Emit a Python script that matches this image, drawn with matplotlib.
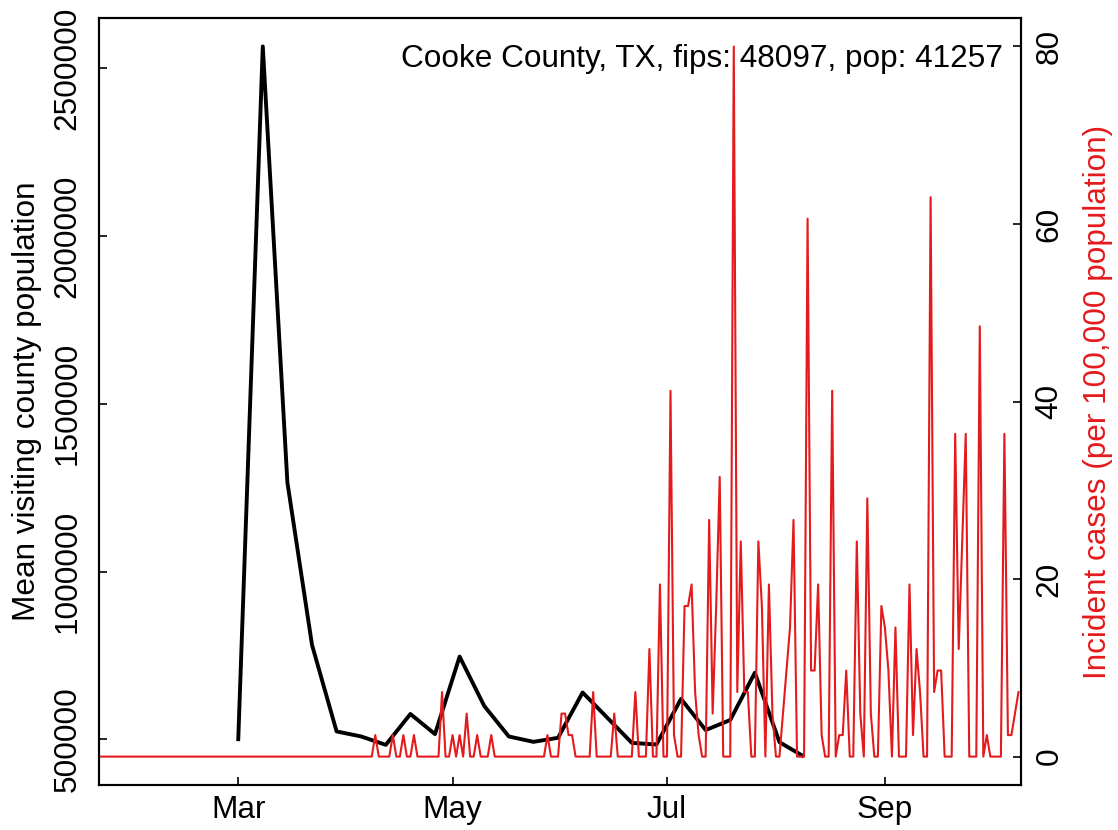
"""
Mean visiting county population (weekly) vs daily incident cases,
Cooke County, TX.
"""

import matplotlib
matplotlib.use("Agg")  # headless backend
import matplotlib.dates as mdates
import matplotlib.pyplot as plt
import numpy as np
import pandas as pd

plt.rcParams["font.family"] = ["Liberation Sans", "DejaVu Sans"]

# ---------------------------------------------------------------------------
# Data
# ---------------------------------------------------------------------------

COUNTY = "Cooke County, TX"
FIPS = 48097
POP = 41257

# weekly mean visiting population, one value per week starting 2020-03-01
visit_start = "2020-03-01"
visit_pop = [
    495000, 2565000, 1266000, 782000, 524000, 509000, 484000, 576000,
    516000, 747000, 600000, 509000, 493000, 505000, 640000, 565000,
    490000, 485000, 621000, 528000, 558000, 699000, 492000, 449000,
]

# daily new cases (counts) starting 2020-01-22
case_start = "2020-01-22"
cases_jan_apr = [0] * 78          # 2020-01-22 .. 2020-04-09, no cases
cases_apr_may = [
    1, 0, 0, 0, 0, 1, 0, 0, 1, 0, 0, 1, 0, 0, 0, 0, 0, 0, 0, 3,   # Apr 10 ..
    0, 0, 1, 0, 1, 0, 2, 0, 0, 1, 0, 0, 0, 1, 0, 0, 0, 0, 0, 0,
    0, 0, 0, 0, 0, 0, 0, 0, 0, 1, 0, 0, 0, 2, 2, 1, 1, 0, 0, 0,
]
cases_jun_jul = [
    0, 0, 3, 0, 0, 0, 0, 0, 2, 0, 0, 0, 0, 0, 3, 0, 0, 0, 5, 0,   # Jun 9 ..
    0, 8, 0, 0, 17, 1, 0, 0, 7, 7, 8, 3, 1, 0, 0, 11, 2, 7, 13, 0,
    0, 0, 33, 3, 10, 3, 3, 0, 0, 10, 7, 0, 8, 2, 0, 0, 2, 4, 6, 11,
]
cases_aug_oct = [
    0, 0, 0, 25, 4, 4, 8, 1, 0, 0, 17, 0, 1, 1, 4, 0, 0, 10, 2, 0,  # Aug 8 ..
    12, 2, 0, 0, 7, 6, 4, 0, 6, 0, 0, 0, 8, 1, 5, 3, 0, 0, 26, 3,
    4, 4, 0, 0, 0, 15, 5, 10, 15, 0, 0, 0, 20, 0, 1, 0, 0, 0, 0, 15,
    1, 1, 2, 3,
]

# ---------------------------------------------------------------------------
# Build series
# ---------------------------------------------------------------------------

cases = np.array(cases_jan_apr + cases_apr_may + cases_jun_jul + cases_aug_oct,
                 dtype=float)
incidence = cases / POP * 1e5
case_dates = pd.date_range(case_start, periods=len(cases), freq="D")
visit_dates = pd.date_range(visit_start, periods=len(visit_pop), freq="7D")

RED = "#e41a1c"
FS = 22.7

# ---------------------------------------------------------------------------
# Figure
# ---------------------------------------------------------------------------

fig = plt.figure(figsize=(11.18, 8.30), dpi=100)
ax = fig.add_axes([0.0886, 0.0542, 0.8242, 0.9241])
ax2 = ax.twinx()

ax.plot(visit_dates, visit_pop, color="black", lw=2.8, solid_capstyle="butt")
ax2.plot(case_dates, incidence, color=RED, lw=1.5)

pad = pd.Timedelta(hours=14)
ax.set_xlim(case_dates[0] - pad, case_dates[-1] + pad)

lo, hi = min(visit_pop), max(visit_pop)
r = hi - lo
ax.set_ylim(lo - 0.04 * r, hi + 0.04 * r)
ax2.set_ylim(-0.04 * 80, 80 * 1.04)

ax.set_yticks([500000, 1000000, 1500000, 2000000, 2500000])
ax.set_yticklabels(["500000", "1000000", "1500000", "2000000", "2500000"],
                   rotation=90, va="center")
ax2.set_yticks([0, 20, 40, 60, 80])
ax2.set_yticklabels(["0", "20", "40", "60", "80"], rotation=90, va="center")

ax.xaxis.set_major_locator(mdates.MonthLocator(bymonth=[3, 5, 7, 9]))
ax.xaxis.set_major_formatter(mdates.DateFormatter("%b"))

ax.tick_params(axis="x", direction="in", length=6, width=1.2,
               labelsize=FS, pad=7)
ax.tick_params(axis="y", direction="in", length=6, width=1.2,
               labelsize=FS, pad=12)
ax2.tick_params(axis="y", direction="in", length=6, width=1.2,
                labelsize=FS, pad=10)

for a in (ax, ax2):
    for s in a.spines.values():
        s.set_linewidth(1.5)

ax.set_ylabel("Mean visiting county population", fontsize=FS, va="center")
ax.yaxis.set_label_coords(-0.0785, 0.5)
ax2.set_ylabel("Incident cases (per 100,000 population)", fontsize=FS,
               color=RED, va="center")
ax2.yaxis.set_label_coords(1.084, 0.5)

ax.text(0.981, 0.946, f"{COUNTY}, fips: {FIPS}, pop: {POP}",
        transform=ax.transAxes, ha="right", va="center", fontsize=FS)

fig.savefig("out.png", dpi=100)
